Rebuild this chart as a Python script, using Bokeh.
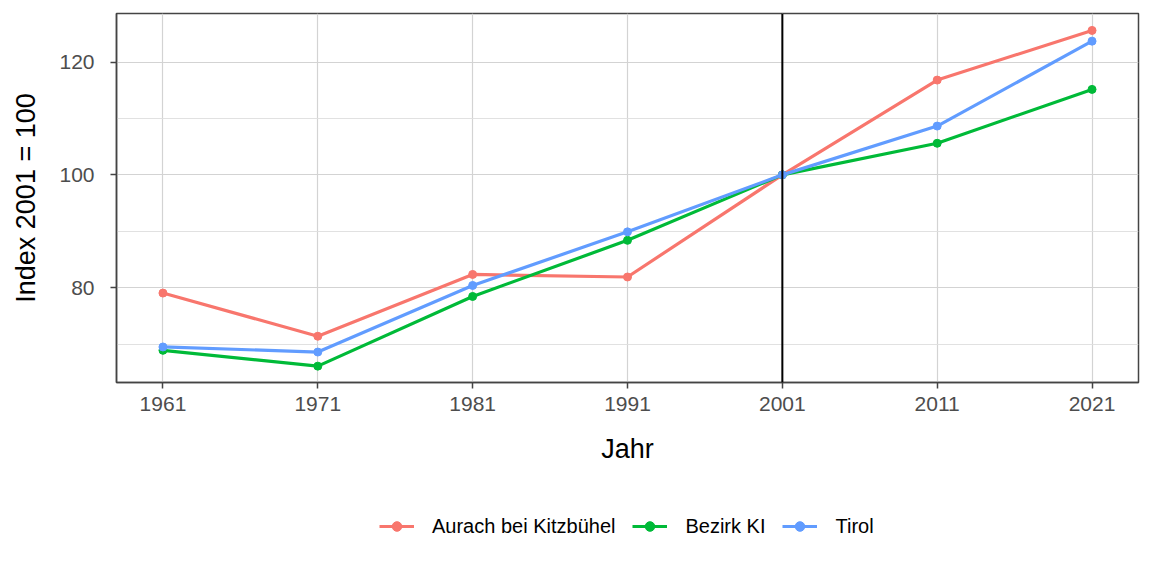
from bokeh.plotting import figure
from bokeh.models import Range1d, FixedTicker, Legend, LegendItem, Span
from bokeh.layouts import column
from bokeh.embed import file_html
from bokeh.resources import INLINE

years = [1961, 1971, 1981, 1991, 2001, 2011, 2021]
aurach = [79.05, 71.4, 82.35, 81.9, 100, 116.8, 125.6]
bezirk = [68.9, 66.1, 78.45, 88.4, 100, 105.6, 115.15]
tirol = [69.5, 68.6, 80.4, 89.9, 100, 108.65, 123.7]

series_names = ["Aurach bei Kitzbühel", "Bezirk KI", "Tirol"]
series_values = [aurach, bezirk, tirol]
colors = ["#F8766D", "#00BA38", "#619CFF"]

y_major = [80, 100, 120]
y_minor = [70, 90, 110]

FONT = "Liberation Sans"
LW = 3.2
MS = 8

p = figure(width=1152, height=480,
           x_range=Range1d(1958, 2024), y_range=Range1d(63.2, 128.6),
           output_backend="svg", toolbar_location=None,
           min_border_left=116, min_border_right=14, min_border_top=13,
           min_border_bottom=98)

p.background_fill_color = "white"
p.border_fill_color = "white"
p.outline_line_color = "#444444"
p.outline_line_width = 1.5

for name, vals, col in zip(series_names, series_values, colors):
    p.line(years, vals, line_color=col, line_width=LW)
    p.scatter(years, vals, size=MS, fill_color=col, line_color=col)

p.add_layout(Span(location=2001, dimension="height", line_color="black", line_width=2))

p.xaxis.ticker = FixedTicker(ticks=years)
p.yaxis.ticker = FixedTicker(ticks=y_major, minor_ticks=y_minor)

for ax in (p.xaxis, p.yaxis):
    ax.axis_line_color = "#444444"
    ax.axis_line_width = 1.5
    ax.major_tick_line_color = "#444444"
    ax.major_tick_line_width = 1.5
    ax.major_tick_out = 6
    ax.major_tick_in = 0
    ax.minor_tick_line_color = None
    ax.major_label_text_font = FONT
    ax.major_label_text_font_size = "21px"
    ax.major_label_text_color = "#4d4d4d"
    ax.axis_label_text_font = FONT
    ax.axis_label_text_font_size = "27px"
    ax.axis_label_text_font_style = "normal"
    ax.axis_label_text_color = "black"

p.xaxis.axis_label = "Jahr"
p.yaxis.axis_label = "Index 2001 = 100"
p.xaxis.major_label_standoff = 8
p.xaxis.axis_label_standoff = 20
p.yaxis.major_label_standoff = 16
p.yaxis.axis_label_standoff = 15

p.xgrid.grid_line_color = "#d3d3d3"
p.xgrid.grid_line_width = 1.2
p.ygrid.grid_line_color = "#d3d3d3"
p.ygrid.grid_line_width = 1.2
p.ygrid.minor_grid_line_color = "#dedede"
p.ygrid.minor_grid_line_width = 0.9

# legend strip below the plot (its own figure; the series lie outside its view)
lf = figure(width=1152, height=96, x_range=Range1d(0, 1), y_range=Range1d(0, 1),
            x_axis_type=None, y_axis_type=None,
            output_backend="svg", toolbar_location=None,
            min_border=0, min_border_left=0, min_border_right=0,
            min_border_top=0, min_border_bottom=0)
lf.outline_line_color = None
lf.background_fill_color = "white"
lf.border_fill_color = "white"
lf.grid.visible = False

items = []
for name, vals, col in zip(series_names, series_values, colors):
    l = lf.line(years, vals, line_color=col, line_width=LW)
    s = lf.scatter(years, vals, size=MS, fill_color=col, line_color=col)
    items.append(LegendItem(label=name, renderers=[l, s]))

legend = Legend(items=items, orientation="horizontal", location=(263, 38),
                border_line_color=None, background_fill_alpha=0,
                glyph_width=35, glyph_height=24, label_standoff=18, spacing=17,
                padding=0, margin=0,
                label_text_font=FONT, label_text_font_size="20px",
                label_text_color="black")
lf.add_layout(legend, "center")

layout = column(p, lf, spacing=0)
open("out.html", "w").write(file_html(layout, INLINE))
